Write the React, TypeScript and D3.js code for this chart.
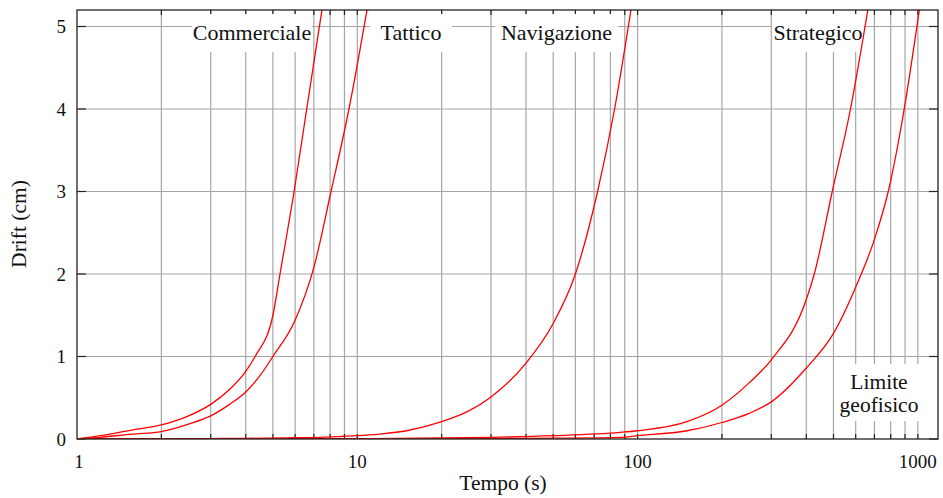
import * as React from "react";
import * as d3 from "d3";

const width = 943;
const height = 498;

// curva 1 (la più ripida, zona commerciale)
const tempi1 = [1, 1.21, 1.58, 2, 2.5, 3, 3.5, 4, 4.32, 5, 5.3, 5.95, 6.6, 7.48];
const drift1 = [0, 0.04, 0.11, 0.17, 0.28, 0.42, 0.6, 0.82, 1.0, 1.5, 2.0, 3.0, 4.0, 5.2];

// curva 2
const tempi2 = [1, 1.21, 1.58, 2, 2.5, 3, 3.5, 4, 4.5, 5, 6, 7, 8.06, 9.34, 10.83];
const drift2 = [0, 0.02, 0.06, 0.09, 0.18, 0.28, 0.42, 0.57, 0.77, 1.0, 1.44, 2.08, 3.0, 4.0, 5.2];

// curva 3 (navigazione)
const tempi3 = [1, 3, 6, 8.67, 10, 12, 15, 20, 25, 30, 40, 50, 60, 72, 82.8, 94.7];
const drift3 = [0, 0.005, 0.015, 0.03, 0.04, 0.06, 0.1, 0.21, 0.34, 0.51, 0.92, 1.4, 2.0, 3.0, 4.0, 5.2];

// curva 4 (strategico)
const tempi4 = [1, 10, 30, 50, 86.6, 100, 150, 200, 250, 300, 400, 427, 495, 575, 663];
const drift4 = [0, 0.005, 0.02, 0.04, 0.08, 0.1, 0.21, 0.41, 0.68, 0.96, 1.69, 2.0, 3.0, 4.0, 5.2];

// curva 5
const tempi5 = [1, 30, 50, 86.6, 100, 150, 200, 250, 300, 400, 500, 600, 700, 784, 894, 1012];
const drift5 = [0, 0.005, 0.01, 0.02, 0.04, 0.1, 0.2, 0.31, 0.45, 0.86, 1.28, 1.84, 2.42, 3.0, 4.0, 5.2];

const curves = [
  [tempi1, drift1],
  [tempi2, drift2],
  [tempi3, drift3],
  [tempi4, drift4],
  [tempi5, drift5],
];

const yTicks = [0, 1, 2, 3, 4, 5];
const xLabels = [1, 10, 100, 1000];

const labelNames = ["Commerciale", "Tattico", "Navigazione", "Strategico"];
// box of the labels, in pixels (left, right)
const labelBoxes = [
  [192, 312],
  [370, 452],
  [495, 618],
  [772, 864],
];

const font = "'Liberation Serif', 'Times New Roman', serif";

export default function App() {
  const x = d3.scaleLog().domain([1, 1180]).range([77, 938]);
  const y = d3.scaleLinear().domain([0, 5.2]).range([439, 10]);

  const line = d3
    .line<[number, number]>()
    .x(d => x(d[0]))
    .y(d => y(d[1]))
    .curve(d3.curveMonotoneX);

  const gridX = x.ticks().filter(v => v > 1 && v < 1180);
  const [x0, x1] = x.range();
  const [yb, yt] = y.range();

  return (
    <svg
      width={width}
      height={height}
      style={{ position: "absolute", left: 0, top: 0, background: "#fff" }}
      fontFamily={font}
    >
      <defs>
        <clipPath id="plot">
          <rect x={x0} y={yt} width={x1 - x0} height={yb - yt} />
        </clipPath>
      </defs>

      {/* griglia */}
      {gridX.map(v => (
        <line key={"gx" + v} x1={x(v)} x2={x(v)} y1={yt} y2={yb} stroke="#a6a6a6" strokeWidth={1.2} />
      ))}
      {yTicks.filter(v => v > 0).map(v => (
        <line key={"gy" + v} x1={x0} x2={x1} y1={y(v)} y2={y(v)} stroke="#a6a6a6" strokeWidth={1.2} />
      ))}

      {/* tacche */}
      {gridX.map(v => (
        <g key={"tx" + v}>
          <line x1={x(v)} x2={x(v)} y1={yt} y2={yt + 5} stroke="#222" strokeWidth={1.2} />
          <line x1={x(v)} x2={x(v)} y1={yb} y2={yb - 5} stroke="#222" strokeWidth={1.2} />
        </g>
      ))}
      {yTicks.map(v => (
        <g key={"ty" + v}>
          <line x1={x0} x2={x0 + 9} y1={y(v)} y2={y(v)} stroke="#222" strokeWidth={1.2} />
          <line x1={x1} x2={x1 - 9} y1={y(v)} y2={y(v)} stroke="#222" strokeWidth={1.2} />
        </g>
      ))}

      {/* etichette con sfondo bianco */}
      {labelNames.map((name, i) => (
        <g key={name}>
          <rect x={labelBoxes[i][0]} y={14} width={labelBoxes[i][1] - labelBoxes[i][0]} height={38} fill="#fff" />
          <text x={(labelBoxes[i][0] + labelBoxes[i][1]) / 2} y={40} textAnchor="middle" fontSize={22} fill="#111">
            {name}
          </text>
        </g>
      ))}
      <rect x={834} y={364} width={90} height={57} fill="#fff" />
      <text x={879} y={389} textAnchor="middle" fontSize={21.5} fill="#111">Limite</text>
      <text x={879} y={412} textAnchor="middle" fontSize={21.5} fill="#111">geofisico</text>

      {/* curve */}
      <g clipPath="url(#plot)">
        {curves.map(([t, d], i) => (
          <path
            key={i}
            d={line(t.map((v, j) => [v, d[j]] as [number, number])) || ""}
            fill="none"
            stroke="#ff0000"
            strokeWidth={1.3}
          />
        ))}
      </g>

      {/* cornice */}
      <rect x={x0} y={yt} width={x1 - x0} height={yb - yt} fill="none" stroke="#222" strokeWidth={1.3} />

      {/* etichette assi */}
      {yTicks.map(v => (
        <text key={"ly" + v} x={66} y={y(v) + 6.5} textAnchor="end" fontSize={19} fill="#111">
          {v}
        </text>
      ))}
      {xLabels.map(v => (
        <text key={"lx" + v} x={x(v) + (v === 1 ? 2 : 0)} y={468} textAnchor="middle" fontSize={19} fill="#111">
          {v}
        </text>
      ))}
      <text x={503} y={490} textAnchor="middle" fontSize={21.5} fill="#111">
        Tempo (s)
      </text>
      <text transform="translate(26,224) rotate(-90)" textAnchor="middle" fontSize={21.5} fill="#111">
        Drift (cm)
      </text>
    </svg>
  );
}
